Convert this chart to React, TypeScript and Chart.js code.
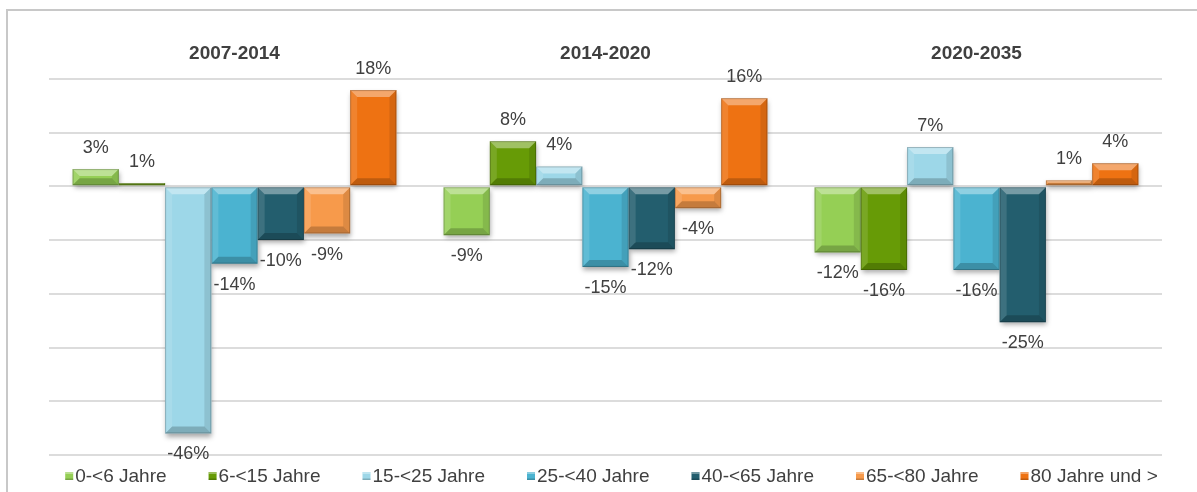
import React, { useEffect, useRef } from 'react';
import { Chart, registerables } from 'chart.js';

Chart.register(...registerables);

// ---- data ----
const categories = ['2007-2014', '2014-2020', '2020-2035'];
const seriesNames = [
  '0-<6 Jahre',
  '6-<15 Jahre',
  '15-<25 Jahre',
  '25-<40 Jahre',
  '40-<65 Jahre',
  '65-<80 Jahre',
  '80 Jahre und >',
];
const age0to6 = [3.2, -9.1, -12.3];
const age6to15 = [0.6, 8.4, -15.6];
const age15to25 = [-46.0, 3.7, 7.3];
const age25to40 = [-14.4, -15.0, -15.6];
const age40to65 = [-10.0, -11.7, -25.3];
const age65to80 = [-8.8, -4.1, 1.1];
const age80plus = [17.9, 16.4, 4.3];
const seriesValues = [age0to6, age6to15, age15to25, age25to40, age40to65, age65to80, age80plus];
const yTickValues = [-50, -40, -30, -20, -10, 0, 10, 20];

// ---- styles ----
const seriesColors = ['#95CF55', '#679B06', '#9DD7E8', '#4BB3D0', '#235E6E', '#F79A4B', '#EE7212'];
const W = 1197;
const H = 492;
const FONT = '"Liberation Sans", Arial, Helvetica, sans-serif';
const TEXT = '#404040';

function poly(ctx: CanvasRenderingContext2D, pts: number[][], fill: string) {
  ctx.beginPath();
  ctx.moveTo(pts[0][0], pts[0][1]);
  for (let i = 1; i < pts.length; i++) ctx.lineTo(pts[i][0], pts[i][1]);
  ctx.closePath();
  ctx.fillStyle = fill;
  ctx.fill();
}

function barBox(el: any) {
  const p = el.getProps(['x', 'y', 'base', 'width'], true);
  const left = p.x - p.width / 2;
  const right = p.x + p.width / 2;
  const top = Math.min(p.y, p.base);
  const bottom = Math.max(p.y, p.base);
  return { left, right, top, bottom, x: p.x, y: p.y, base: p.base };
}

const framePlugin = {
  id: 'frame',
  beforeDraw(chart: any) {
    const ctx = chart.ctx as CanvasRenderingContext2D;
    ctx.save();
    ctx.fillStyle = '#ffffff';
    ctx.fillRect(0, 0, W, H);
    ctx.fillStyle = '#c8c8c8';
    ctx.fillRect(6, 9, W - 6, 2);
    ctx.fillRect(6, 9, 2, H - 9);
    ctx.restore();
  },
};

const shadowPlugin = {
  id: 'barShadow',
  beforeDatasetsDraw(chart: any) {
    const ctx = chart.ctx as CanvasRenderingContext2D;
    ctx.save();
    chart.getSortedVisibleDatasetMetas().forEach((meta: any) => {
      meta.data.forEach((el: any) => {
        const b = barBox(el);
        ctx.shadowColor = 'rgba(0,0,0,0.35)';
        ctx.shadowBlur = 5;
        ctx.shadowOffsetX = 1;
        ctx.shadowOffsetY = 3;
        ctx.fillStyle = '#ffffff';
        ctx.fillRect(b.left, b.top, b.right - b.left, Math.max(b.bottom - b.top, 1));
      });
    });
    ctx.restore();
  },
};

const bevelLabelPlugin = {
  id: 'bevelLabels',
  afterDatasetsDraw(chart: any) {
    const ctx = chart.ctx as CanvasRenderingContext2D;
    ctx.save();
    chart.getSortedVisibleDatasetMetas().forEach((meta: any) => {
      const ds = chart.data.datasets[meta.index];
      meta.data.forEach((el: any, i: number) => {
        const { left, right, top, bottom } = barBox(el);
        const w = right - left;
        const h = bottom - top;
        const bv = Math.min(7, h / 2, w / 2);
        if (h > 0.5) {
          poly(ctx, [[left, top], [right, top], [right - bv, top + bv], [left + bv, top + bv]], 'rgba(255,255,255,0.38)');
          poly(ctx, [[left, top], [left + bv, top + bv], [left + bv, bottom - bv], [left, bottom]], 'rgba(255,255,255,0.12)');
          poly(ctx, [[right, top], [right - bv, top + bv], [right - bv, bottom - bv], [right, bottom]], 'rgba(0,0,0,0.10)');
          poly(ctx, [[left, bottom], [left + bv, bottom - bv], [right - bv, bottom - bv], [right, bottom]], 'rgba(0,0,0,0.20)');
          ctx.strokeStyle = 'rgba(0,0,0,0.22)';
          ctx.lineWidth = 1;
          ctx.strokeRect(left + 0.5, top + 0.5, Math.max(w - 1, 0), Math.max(h - 1, 0));
        }
        // value label
        const v = ds.data[i] as number;
        const p = el.getProps(['x', 'y'], true);
        ctx.font = `18px ${FONT}`;
        ctx.fillStyle = TEXT;
        ctx.textAlign = 'center';
        ctx.textBaseline = 'middle';
        const ly = v >= 0 ? p.y - 21 : p.y + 21;
        ctx.fillText(`${Math.round(v)}%`, p.x, ly);
      });
    });
    ctx.restore();
  },
};

const legendPlugin = {
  id: 'customLegend',
  afterDraw(chart: any) {
    const ctx = chart.ctx as CanvasRenderingContext2D;
    const area = chart.chartArea;
    ctx.save();
    ctx.font = `19px ${FONT}`;
    const box = 8;
    const boxGap = 2;
    const itemGap = 42;
    const names = chart.data.datasets.map((d: any) => d.label as string);
    const widths = names.map((n: string) => ctx.measureText(n).width);
    const total =
      widths.reduce((a: number, w: number) => a + box + boxGap + w, 0) + itemGap * (names.length - 1);
    let x = (area.left + area.right) / 2 + 6 - total / 2;
    const cy = area.bottom + 21;
    names.forEach((n: string, i: number) => {
      const col = chart.data.datasets[i].backgroundColor as string;
      ctx.fillStyle = col;
      ctx.fillRect(x, cy - 4, box, box);
      ctx.fillStyle = 'rgba(255,255,255,0.35)';
      ctx.fillRect(x, cy - 4, box, 2);
      ctx.fillStyle = 'rgba(0,0,0,0.2)';
      ctx.fillRect(x, cy + 2.5, box, 1.5);
      ctx.fillStyle = TEXT;
      ctx.textAlign = 'left';
      ctx.textBaseline = 'middle';
      ctx.fillText(n, x + box + boxGap, cy + 1);
      x += box + boxGap + widths[i] + itemGap;
    });
    ctx.restore();
  },
};

export default function App() {
  const canvasRef = useRef<HTMLCanvasElement | null>(null);

  useEffect(() => {
    const canvas = canvasRef.current;
    if (!canvas) return;
    const chart = new Chart(canvas, {
      type: 'bar',
      data: {
        labels: categories,
        datasets: seriesNames.map((name, i) => ({
          label: name,
          data: seriesValues[i],
          backgroundColor: seriesColors[i],
          borderWidth: 0,
          barPercentage: 1,
          categoryPercentage: 0.873,
        })),
      },
      options: {
        responsive: false,
        animation: false,
        layout: { padding: { left: 49, right: 35, top: 28, bottom: 37 } },
        plugins: {
          legend: { display: false },
          tooltip: { enabled: false },
        },
        scales: {
          x: {
            position: 'top',
            grid: { display: false, drawTicks: false },
            border: { display: false },
            ticks: {
              color: TEXT,
              padding: 14,
              font: { family: FONT, size: 19, weight: 'bold' },
            },
          },
          y: {
            min: yTickValues[0],
            max: yTickValues[yTickValues.length - 1],
            afterBuildTicks: (scale: any) => {
              scale.ticks = yTickValues.map((v) => ({ value: v }));
            },
            ticks: { display: false },
            grid: { color: '#dcdcdc', lineWidth: 2, drawTicks: false },
            border: { display: false },
            afterFit: (scale: any) => {
              scale.width = 0;
            },
          },
        },
      },
      plugins: [framePlugin, shadowPlugin, bevelLabelPlugin, legendPlugin],
    } as any);
    return () => chart.destroy();
  }, []);

  return (
    <div style={{ position: 'fixed', left: 0, top: 0, width: W, height: H, background: '#fff' }}>
      <canvas ref={canvasRef} width={W} height={H} style={{ display: 'block' }} />
    </div>
  );
}
